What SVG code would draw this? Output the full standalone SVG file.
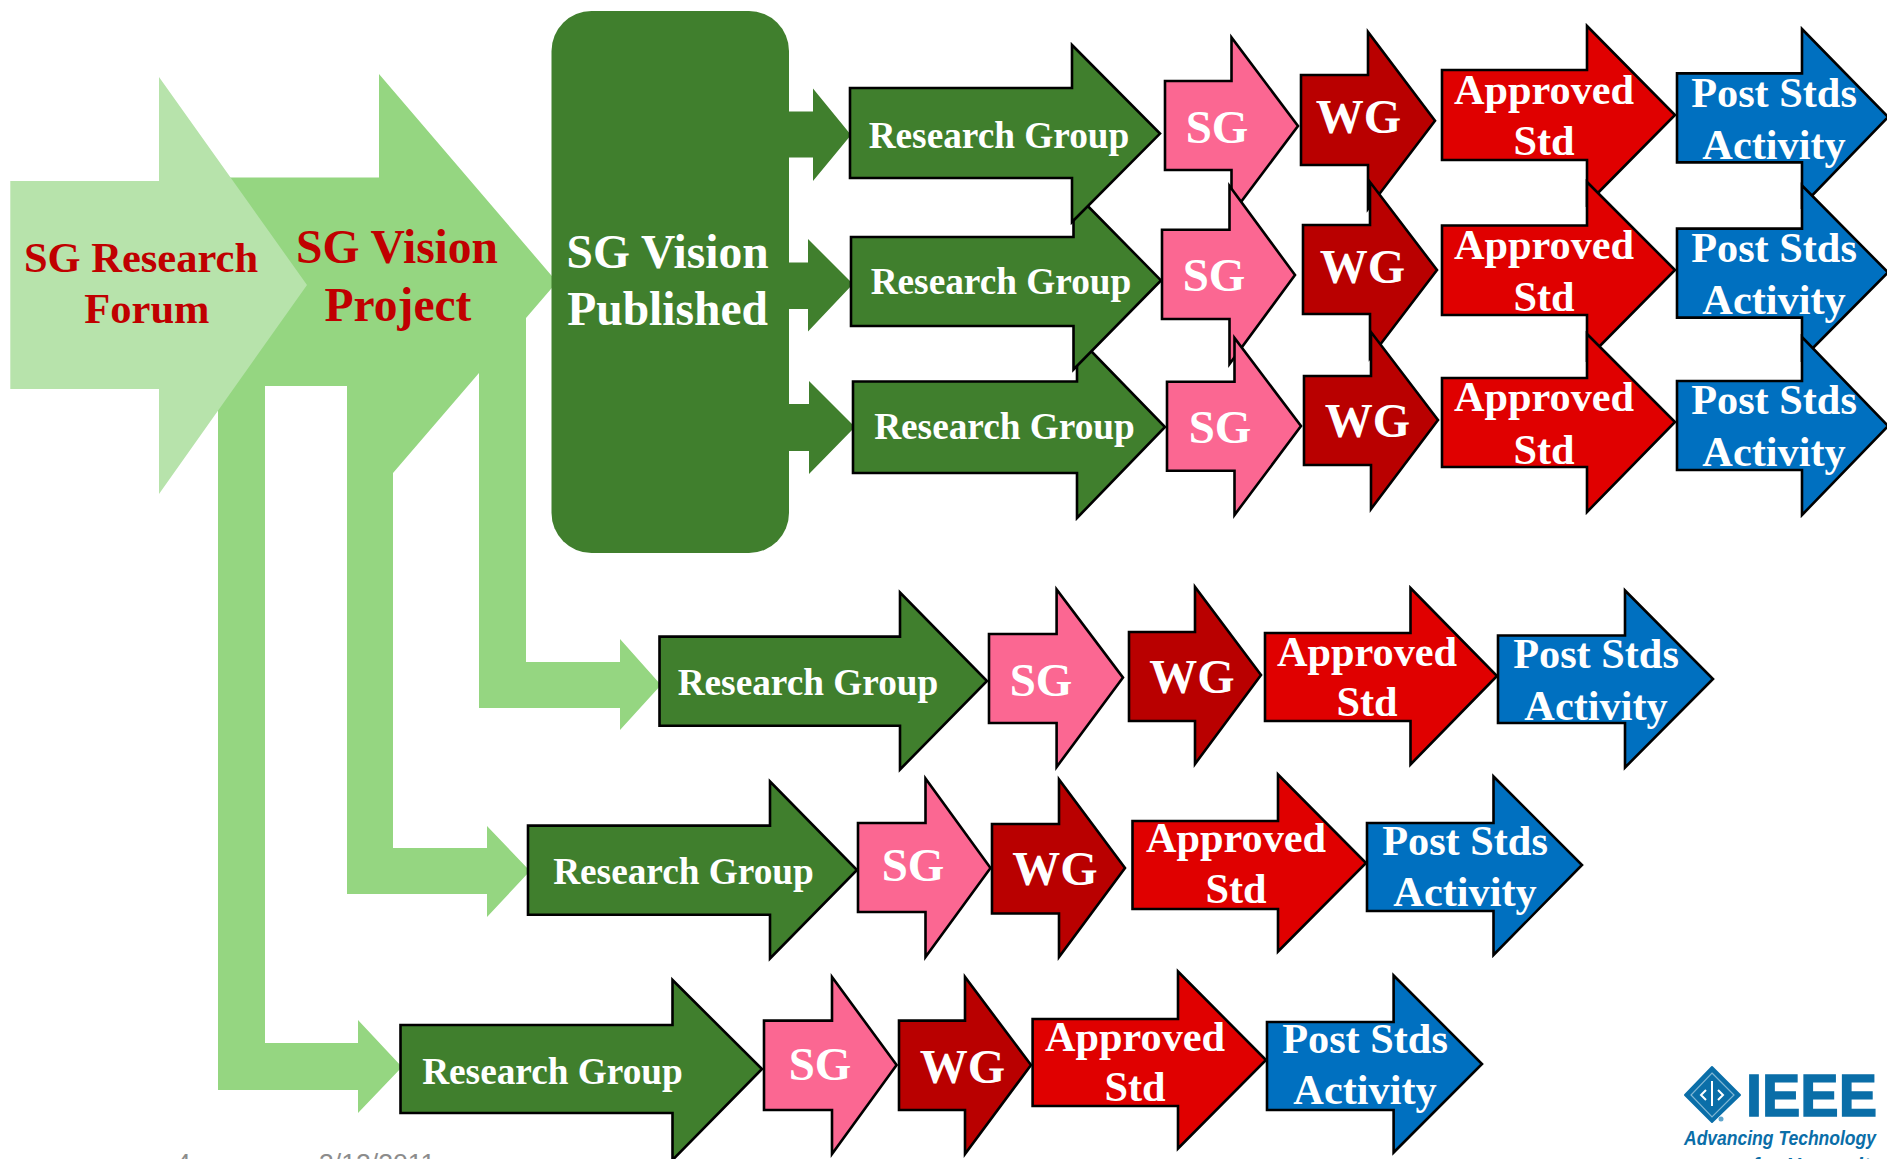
<svg xmlns="http://www.w3.org/2000/svg" width="1887" height="1159" viewBox="0 0 1887 1159">
<style>
text{font-family:"Liberation Serif","Times New Roman",serif;font-weight:bold;text-anchor:middle;fill:#fff}
.a{stroke:#000;stroke-width:2.6;stroke-linejoin:miter}
.rg{fill:#407f2d}.sg{fill:#fb6792}.wg{fill:#b90000}.ap{fill:#e00000}.ps{fill:#0070c0}
.trg{font-size:37.300px}.tsg{font-size:47px}.twg{font-size:48px}.tl{font-size:42.300px}
.lt{fill:#95d681}.dk{fill:#407f2d}
.red{fill:#c00000}
.foot{font-family:"Liberation Sans",Arial,sans-serif;font-weight:normal;font-size:26.600px;fill:#8c8c8c;text-anchor:start}
.logo{font-family:"Liberation Sans",Arial,sans-serif;fill:#0a6ea8;text-anchor:start}
</style>
<g id="connectors">
<path class="lt" d="M479 380H526V662H620V639L661 685L620 730V708H479Z"/>
<path class="lt" d="M347 380H393V848H487V826L530 871L487 917V894H347Z"/>
<path class="lt" d="M218 380H265V1043H358V1020L402 1067L358 1113V1090H218Z"/>
<path class="dk" d="M780 111.400H813V88.600L851 135L813 181V157.500H780Z"/>
<path class="dk" d="M780 262.500H808V239L853 284L808 331.500V309H780Z"/>
<path class="dk" d="M780 404H809V381L855 427L809 474V451H780Z"/>
</g>
<g id="vision-project">
<path class="lt" d="M200 177.500H379V74L557 282L526 318V400H479V373L393 473V400H347V386H200Z"/>
<text class="red" x="397" y="262.500" font-size="47.500">SG Vision</text>
<text class="red" x="398" y="320.600" font-size="47.500">Project</text>
</g>
<g id="research-forum">
<path fill="#b7e3ab" d="M10.300 181H159V77L307 285L159 494V389H10.300Z"/>
<text class="red" x="141" y="272.400" font-size="42.500">SG Research</text>
<text class="red" x="146.900" y="323" font-size="42.500">Forum</text>
</g>
<g id="vision-published">
<rect class="dk" x="551.500" y="11" width="237.500" height="542" rx="40" ry="40"/>
<text x="667.600" y="267.500" font-size="47.500">SG Vision</text>
<text x="667.600" y="324.500" font-size="47.500">Published</text>
</g>
<g id="research-groups">
<g id="rg3"><path class="a rg" d="M853 381.500H1077V336.500L1165 427L1077 518V473H853Z"/><text class="trg" x="1004.500" y="439">Research Group</text></g>
<g id="rg2"><path class="a rg" d="M851 237H1073.500V191.500L1161 280.400L1073.500 369.500V326H851Z"/><text class="trg" x="1001" y="294">Research Group</text></g>
<g id="rg1"><path class="a rg" d="M850 88H1072V45L1160 133.600L1072 222V178H850Z"/><text class="trg" x="999" y="148">Research Group</text></g>
</g>
<g id="row1">
<g id="sg1"><path class="a sg" d="M1165 81H1231.500V37.500L1298 126L1231.500 214.500V170H1165Z"/><text class="tsg" x="1217" y="143">SG</text></g>
<g id="wg1"><path class="a wg" d="M1301 75H1368V32L1435 120.700L1368 209V165H1301Z"/><text class="twg" x="1358.500" y="133">WG</text></g>
<g id="ap1"><path class="a ap" d="M1442 70H1587V26L1675 115L1587 204V160H1442Z"/><text class="tl" x="1544" y="104.400">Approved</text><text class="tl" x="1544" y="155">Std</text></g>
<g id="ps1"><path class="a ps" d="M1677 73.400H1802V29L1888 117L1802 206V162.400H1677Z"/><text class="tl" x="1774" y="107">Post Stds</text><text class="tl" x="1774" y="158.600">Activity</text></g>
</g>
<g id="row2">
<g id="sg2"><path class="a sg" d="M1162 229.700H1229.500V186L1295 275L1229.500 364V319H1162Z"/><text class="tsg" x="1214" y="291">SG</text></g>
<g id="wg2"><path class="a wg" d="M1303 225H1370V182L1437 270L1370 358V314H1303Z"/><text class="twg" x="1362.500" y="283">WG</text></g>
<g id="ap2"><path class="a ap" d="M1442 225.500H1587V182L1675 270L1587 359V315H1442Z"/><text class="tl" x="1544" y="258.600">Approved</text><text class="tl" x="1544" y="311.400">Std</text></g>
<g id="ps2"><path class="a ps" d="M1677 228.600H1802V185.500L1888 272.400L1802 359V317.600H1677Z"/><text class="tl" x="1774" y="261.800">Post Stds</text><text class="tl" x="1774" y="313.500">Activity</text></g>
</g>
<g id="row3">
<g id="sg3"><path class="a sg" d="M1167 381.700H1234.500V338L1301 426L1234.500 515V470.700H1167Z"/><text class="tsg" x="1220" y="442.500">SG</text></g>
<g id="wg3"><path class="a wg" d="M1304 376H1371V332L1438 420L1371 509V465H1304Z"/><text class="twg" x="1367.500" y="437">WG</text></g>
<g id="ap3"><path class="a ap" d="M1442 378H1587V334L1675 422L1587 512V467H1442Z"/><text class="tl" x="1544" y="411">Approved</text><text class="tl" x="1544" y="463.500">Std</text></g>
<g id="ps3"><path class="a ps" d="M1677 381H1802V337L1888 426L1802 515V470H1677Z"/><text class="tl" x="1774" y="413.500">Post Stds</text><text class="tl" x="1774" y="466">Activity</text></g>
</g>
<g id="row4">
<g id="rg4"><path class="a rg" d="M659.500 636.600H900V592.500L987 681L900 769.500V725.700H659.500Z"/><text class="trg" x="808" y="694.600">Research Group</text></g>
<g id="sg4"><path class="a sg" d="M989 634H1056.600V589.500L1123 677.600L1056.600 767V723H989Z"/><text class="tsg" x="1041" y="695.600">SG</text></g>
<g id="wg4"><path class="a wg" d="M1129 632H1195V587L1261 675L1195 764V721H1129Z"/><text class="twg" x="1192" y="693">WG</text></g>
<g id="ap4"><path class="a ap" d="M1265 633H1410.500V588L1497 676L1410.500 764.500V721H1265Z"/><text class="tl" x="1367" y="665.600">Approved</text><text class="tl" x="1367" y="716">Std</text></g>
<g id="ps4"><path class="a ps" d="M1498 635.500H1625V590.500L1713 679L1625 767.500V723H1498Z"/><text class="tl" x="1596" y="668">Post Stds</text><text class="tl" x="1596" y="719.600">Activity</text></g>
</g>
<g id="row5">
<g id="rg5"><path class="a rg" d="M528 825.600H770V781.500L857 870L770 958.500V914.700H528Z"/><text class="trg" x="683.500" y="883.600">Research Group</text></g>
<g id="sg5"><path class="a sg" d="M858 823H925.500V778.500L990.500 868L925.500 957V912H858Z"/><text class="tsg" x="913" y="881">SG</text></g>
<g id="wg5"><path class="a wg" d="M992 824H1059V779.500L1125 868L1059 957V913.500H992Z"/><text class="twg" x="1055" y="885">WG</text></g>
<g id="ap5"><path class="a ap" d="M1132.500 821H1278V774.500L1366 863L1278 951.500V909H1132.500Z"/><text class="tl" x="1236" y="852">Approved</text><text class="tl" x="1236" y="903">Std</text></g>
<g id="ps5"><path class="a ps" d="M1367 823H1493.500V776.500L1582 865L1493.500 955V911H1367Z"/><text class="tl" x="1465" y="854.700">Post Stds</text><text class="tl" x="1465" y="906">Activity</text></g>
</g>
<g id="row6">
<g id="rg6"><path class="a rg" d="M400.500 1025H672.500V980L762 1069L672.500 1160V1113H400.500Z"/><text class="trg" x="552.500" y="1084">Research Group</text></g>
<g id="sg6"><path class="a sg" d="M764 1020.600H832V977L896.600 1065L832 1154V1110H764Z"/><text class="tsg" x="820" y="1080">SG</text></g>
<g id="wg6"><path class="a wg" d="M899 1020.600H965V977L1031 1065L965 1154V1110H899Z"/><text class="twg" x="962.500" y="1083">WG</text></g>
<g id="ap6"><path class="a ap" d="M1032.600 1019H1178V971.500L1266 1060L1178 1148.500V1106H1032.600Z"/><text class="tl" x="1135" y="1050.600">Approved</text><text class="tl" x="1135" y="1101">Std</text></g>
<g id="ps6"><path class="a ps" d="M1267 1022H1393.600V975.500L1482 1064L1393.600 1152.500V1110H1267Z"/><text class="tl" x="1365" y="1052.500">Post Stds</text><text class="tl" x="1365" y="1104">Activity</text></g>
</g>
<g id="footer">
<text class="foot" x="176" y="1172">4</text>
<text class="foot" x="319" y="1172">3/12/2011</text>
</g>
<g id="ieee-logo">
<path fill="#0a6ea8" stroke="#0a6ea8" stroke-width="2" stroke-linejoin="round" d="M1712 1067L1740 1095L1712 1122L1685 1095Z"/>
<path fill="none" stroke="#7fb6d4" stroke-width="1.200" d="M1712 1073L1734 1095L1712 1117L1691 1095Z"/>
<path fill="none" stroke="#fff" stroke-width="2" d="M1712 1081V1106M1706 1090L1701 1095L1706 1100M1718 1090L1723 1095L1718 1100"/>
<circle cx="1721" cy="1119" r="2.500" fill="#5fa5cc"/>
<text class="logo" x="1746" y="1116" font-size="60" font-weight="bold" stroke="#0a6ea8" stroke-width="1.500" textLength="131" lengthAdjust="spacingAndGlyphs">IEEE</text>
<text class="logo" x="1684" y="1145" font-size="21" font-style="italic" font-weight="bold" textLength="192" lengthAdjust="spacingAndGlyphs">Advancing Technology</text>
<text class="logo" x="1752" y="1172" font-size="21" font-style="italic" font-weight="bold">for Humanity</text>
</g>
</svg>
